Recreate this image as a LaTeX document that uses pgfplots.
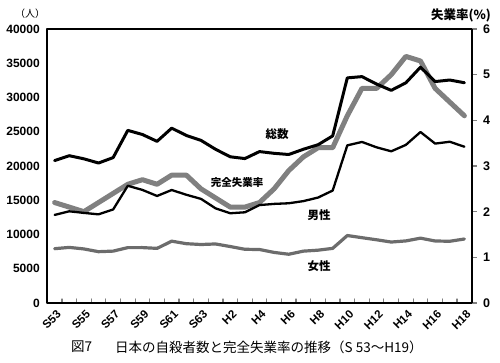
\documentclass[border=0pt]{standalone}
\usepackage{fontspec}
\setmainfont{Liberation Sans}
\newfontfamily\jp{Noto Sans CJK JP}
\usepackage{pgfplots}
\usepackage{pgfplotstable}
\pgfplotsset{compat=1.18}
\definecolor{ugray}{RGB}{128,128,128}
\definecolor{fgray}{RGB}{108,108,108}

\pgfplotstableread{
i total male female rate
0 20788 12859 7929 2.2
1 21503 13386 8117 2.1
2 21048 13155 7893 2.0
3 20434 12942 7492 2.2
4 21228 13654 7574 2.4
5 25202 17116 8086 2.6
6 24596 16508 8088 2.7
7 23599 15624 7975 2.6
8 25524 16497 9027 2.8
9 24460 15802 8658 2.8
10 23742 15202 8540 2.5
11 22436 13818 8618 2.3
12 21346 13102 8244 2.1
13 21084 13242 7842 2.1
14 22104 14296 7808 2.2
15 21851 14468 7383 2.5
16 21679 14560 7119 2.9
17 22445 14874 7571 3.2
18 23104 15393 7711 3.4
19 24391 16416 7975 3.4
20 32863 23013 9850 4.1
21 33048 23512 9536 4.7
22 31957 22727 9230 4.7
23 31042 22144 8898 5.0
24 32143 23080 9063 5.4
25 34427 24963 9464 5.3
26 32325 23272 9053 4.7
27 32552 23540 9012 4.4
28 32155 22813 9342 4.1
}\data

\begin{document}
\begin{tikzpicture}
\useasboundingbox (0pt,0pt) rectangle (500pt,362pt);
\begin{axis}[
  at={(47.3pt,59pt)}, anchor=south west,
  scale only axis, width=424.4pt, height=274pt,
  xmin=-0.5, xmax=28.5, ymin=0, ymax=40000,
  xtick={0,2,...,28},
  xticklabels={S53,S55,S57,S59,S61,S63,H2,H4,H6,H8,H10,H12,H14,H16,H18},
  minor xtick={0.5,1.5,...,27.5},
  major x tick style={draw=none},
  minor tick length=4pt,
  minor tick style={line width=1.2pt},
  tick align=inside,
  xtick pos=left,
  ytick={0,5000,...,40000},
  ytick style={draw=none},
  scaled y ticks=false,
  /pgf/number format/assume math mode=true,
  yticklabel style={/pgf/number format/1000 sep={}, font=\bfseries\fontsize{12}{12}\selectfont, xshift=-4pt},
  xticklabel style={rotate=45, anchor=north east, font=\bfseries\fontsize{11.5}{12}\selectfont, yshift=-2pt},
  axis line style={line width=1.8pt},
  line join=round, line cap=round,
]
\addplot[ugray, line width=5pt] table[x=i, y expr=\thisrow{rate}*40000/6] {\data};
\addplot[fgray, line width=3.2pt] table[x=i, y=female] {\data};
\addplot[black, line width=2.3pt] table[x=i, y=male] {\data};
\addplot[black, line width=3pt] table[x=i, y=total] {\data};
\end{axis}
\begin{axis}[
  at={(47.3pt,59pt)}, anchor=south west,
  scale only axis, width=424.4pt, height=274pt,
  xmin=-0.5, xmax=28.5, ymin=0, ymax=6,
  axis x line=none, axis y line*=right,
  ytick={0,1,...,6},
  tick align=outside, major tick length=5pt,
  ytick style={line width=1.2pt},
  /pgf/number format/assume math mode=true,
  yticklabel style={font=\bfseries\fontsize{12.5}{12}\selectfont, xshift=3pt},
  axis line style={line width=1.8pt},
]
\addplot[draw=none] coordinates {(0,0)};
\end{axis}
\node[font=\jp\fontsize{10}{10}\selectfont] at (30pt,348pt) {（人）};
\node[font=\jp\bfseries\fontsize{12.5}{12}\selectfont] at (461pt,347pt) {失業率(\%)};
\node[font=\jp\bfseries\fontsize{11.5}{12}\selectfont] at (277pt,228pt) {総数};
\node[font=\jp\bfseries\fontsize{10.5}{12}\selectfont] at (237pt,180pt) {完全失業率};
\node[font=\jp\bfseries\fontsize{11.5}{12}\selectfont] at (319pt,147pt) {男性};
\node[font=\jp\bfseries\fontsize{11.5}{12}\selectfont] at (319pt,96pt) {女性};
\node[font=\jp\fontsize{13.5}{14}\selectfont, anchor=west, inner sep=0pt] at (71pt,15pt) {図7};
\node[font=\jp\fontsize{13.5}{14}\selectfont, anchor=west, inner sep=0pt] at (115pt,15pt) {日本の自殺者数と完全失業率の推移（S 53～H19）};
\end{tikzpicture}
\end{document}
